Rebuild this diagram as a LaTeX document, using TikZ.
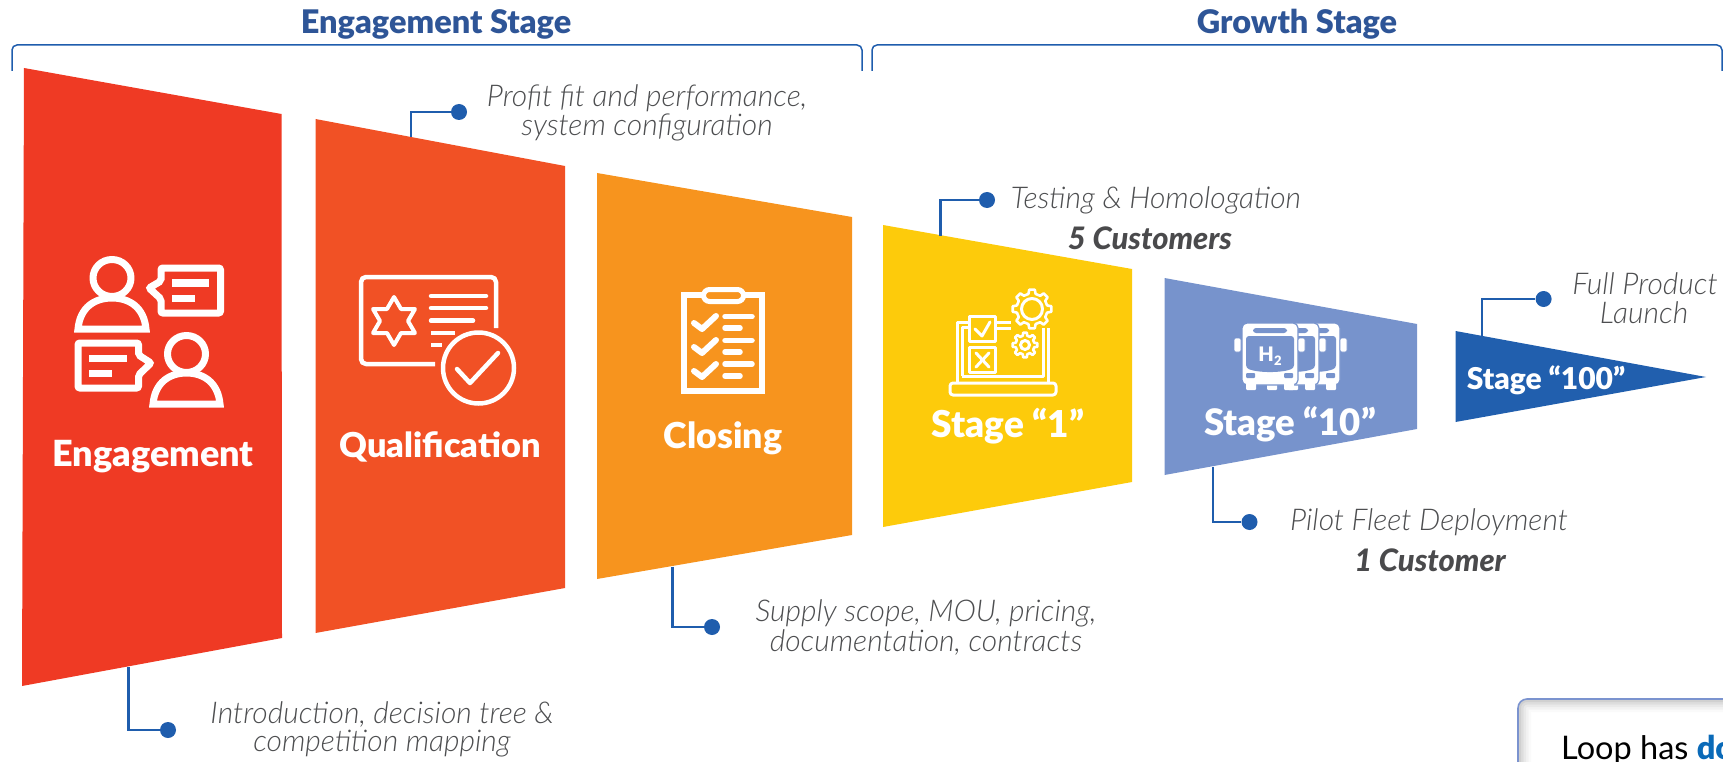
\documentclass[tikz,border=0pt]{standalone}
\usepackage{fontspec}
\setmainfont{Lato}[ItalicFont={Lato Light Italic},BoldFont={Lato Black},BoldItalicFont={Lato Black Italic}]
\usetikzlibrary{calc}
\definecolor{cEng}{HTML}{EF3A24}
\definecolor{cQual}{HTML}{F15125}
\definecolor{cClose}{HTML}{F7941E}
\definecolor{cOne}{HTML}{FDCB0B}
\definecolor{cTen}{HTML}{7793CC}
\definecolor{cHun}{HTML}{215FAE}
\definecolor{cLine}{HTML}{1F5DAD}
\definecolor{cTitle}{HTML}{2E5597}
\definecolor{cGrey}{HTML}{4D4E50}
\definecolor{cBold}{HTML}{4A4A4C}
\definecolor{cFrame}{HTML}{7B93CF}
\definecolor{cDo}{HTML}{0A6AB8}
\tikzset{
  stagelabel/.style={text=white,font=\bfseries\fontsize{#1}{#1}\selectfont,inner sep=0pt,anchor=center},
  note/.style={text=cGrey,font=\itshape\fontsize{30}{30}\selectfont,inner sep=0pt,anchor=center},
  notebold/.style={text=cBold,font=\bfseries\itshape\fontsize{31}{31}\selectfont,inner sep=0pt,anchor=center},
  titletext/.style={text=cTitle,font=\bfseries\fontsize{32.5}{32.5}\selectfont,inner sep=0pt,anchor=center},
  dot/.style={circle,fill=cLine,draw=none,minimum size=16pt,inner sep=0pt},
  conn/.style={draw=cLine,line width=2.4pt},
  bracketline/.style={draw=cLine,line width=1.5pt,rounded corners=5pt},
  ic/.style={draw=white,line width=#1,line join=round,line cap=round},
  bar/.style={fill=white,draw=none},
  busicon/.pic={
    \fill[white,draw=cTen,line width=1.2pt,rounded corners=5pt] (1242,323) rectangle (1298,385);
    \fill[white,rounded corners=1pt] (1246,383) rectangle (1256,390);
    \fill[white,rounded corners=1pt] (1284,383) rectangle (1294,390);
    \fill[cTen,rounded corners=3pt] (1253,328) rectangle (1287,333);
    \fill[cTen,rounded corners=3pt] (1246,336) -- (1294,336) -- (1294,368) .. controls (1282,373) and (1258,373) .. (1246,368) -- cycle;
    \fill[cTen,rounded corners=1pt] (1246,373) rectangle (1255,378);
    \fill[cTen,rounded corners=1pt] (1284,373) rectangle (1293,378);
    \fill[white,draw=cTen,line width=.6pt,rounded corners=2pt] (1234,338) rectangle (1241,352);
    \fill[white,draw=cTen,line width=.6pt,rounded corners=2pt] (1298,338) rectangle (1305,352);
  }
}
\newcommand{\gearshape}[5]{% x y outer root teeth
  \pgfmathsetmacro{\gearstep}{360/#5}
  \foreach \gearidx in {1,...,#5}{
    \pgfmathsetmacro{\ga}{\gearidx*\gearstep}
    \pgfmathsetmacro{\gn}{\ga+\gearstep}
    \draw[ic=2.6pt] ($(#1,#2)+(\ga-0.3*\gearstep:#4)$) -- ($(#1,#2)+(\ga-0.18*\gearstep:#3)$) -- ($(#1,#2)+(\ga+0.18*\gearstep:#3)$) -- ($(#1,#2)+(\ga+0.3*\gearstep:#4)$) -- ($(#1,#2)+(\gn-0.3*\gearstep:#4)$);
  }
}
\begin{document}
\begin{tikzpicture}[x=1pt,y=-1pt]
\useasboundingbox (0,0) rectangle (1723,762);
\clip (0,0) rectangle (1723,762);
% brackets
\coordinate (b1a) at (12,71); \coordinate (b1b) at (12,45); \coordinate (b1c) at (862,45); \coordinate (b1d) at (862,71);
\draw[bracketline] (b1a) -- (b1b) -- (b1c) -- (b1d);
\coordinate (b2a) at (872,71); \coordinate (b2b) at (872,45); \coordinate (b2c) at (1722,45); \coordinate (b2d) at (1722,71);
\draw[bracketline] (b2a) -- (b2b) -- (b2c) -- (b2d);
\node[titletext] (tEng) at (436,24) {Engagement Stage};
\node[titletext] (tGro) at (1297,24) {Growth Stage};
% funnel
\fill[cEng] (24,68) -- (281.5,114) -- (282,638) -- (22,686) -- cycle;
\fill[cQual] (315.5,119) -- (565,166) -- (565,588) -- (315.5,633) -- cycle;
\fill[cClose] (597,173) -- (852,217) -- (852,535) -- (597,579) -- cycle;
\fill[cOne] (883,225) -- (1132,269) -- (1132,482) -- (883,527) -- cycle;
\fill[cTen] (1164.5,278) -- (1417,324) -- (1417,429) -- (1164.5,475) -- cycle;
\fill[cHun] (1455.5,331) -- (1706,377) -- (1455.5,422) -- cycle;
% connector anchors
\coordinate (aEng) at (128.6,667);
\coordinate (aQual) at (411,137);
\coordinate (aClose) at (672.5,566.5);
\coordinate (aOne) at (940.6,235.5);
\coordinate (aTen) at (1213,466.5);
\coordinate (aHun) at (1482,336);
\node[dot] (dEng) at (168,730) {};
\node[dot] (dQual) at (459,112) {};
\node[dot] (dClose) at (712,627) {};
\node[dot] (dOne) at (987,200) {};
\node[dot] (dTen) at (1249.5,522) {};
\node[dot] (dHun) at (1543.6,299) {};
\draw[conn] (aEng) |- (dEng);
\draw[conn] (aQual) |- (dQual);
\draw[conn] (aClose) |- (dClose);
\draw[conn] (aOne) |- (dOne);
\draw[conn] (aTen) |- (dTen);
\draw[conn] (aHun) |- (dHun);
% notes
\node[note] (n1) at (647,98) {Profit fit and performance,};
\node[note] (n2) at (647,127) {system configuration};
\node[note] (n3) at (1156,200) {Testing \& Homologation};
\node[notebold] (n4) at (1150,238) {5 Customers};
\node[note] (n5) at (1645,284) {Full Product};
\node[note] (n6) at (1644,313) {Launch};
\node[note] (n7) at (1429,522) {Pilot Fleet Deployment};
\node[notebold] (n8) at (1430,560) {1 Customer};
\node[note] (n9) at (926,613) {Supply scope, MOU, pricing,};
\node[note] (n10) at (926,642) {documentation, contracts};
\node[note] (n11) at (382,714) {Introduction, decision tree \&};
\node[note] (n12) at (382,744) {competition mapping};
% stage labels
\node[stagelabel=36] (lEng) at (153,457) {Engagement};
\node[stagelabel=34.3] (lQual) at (440,447) {Qualification};
\node[stagelabel=35.7] (lClose) at (723,438) {Closing};
\node[stagelabel=37] (lOne) at (1008,426) {Stage “1”};
\node[stagelabel=36.5] (lTen) at (1290,424) {Stage “10”};
\node[stagelabel=30] (lHun) at (1546,380) {Stage “100”};
% engagement icon
\draw[ic=7pt] (112,278) ellipse (19 and 18.5);
\draw[ic=7pt,line cap=butt,line join=miter] (78,329) .. controls (80,307) and (95,298) .. (112,298) .. controls (129,298) and (144,307) .. (146,329) -- cycle;
\draw[ic=7pt,rounded corners=2pt,line join=miter] (161,268) -- (220.5,268) -- (220.5,313) -- (161,313) -- (161,299) -- (149,288) -- (161,281) -- cycle;
\fill[bar] (172,279) rectangle (209,287);
\fill[bar] (172,295) rectangle (195,302);
\draw[ic=7pt] (186.5,354) ellipse (19 and 18.5);
\draw[ic=7pt,line cap=butt,line join=miter] (153,404) .. controls (155,382) and (170,373) .. (186.5,373) .. controls (203,373) and (218,382) .. (220,404) -- cycle;
\draw[ic=7pt,rounded corners=2pt,line join=miter] (78,343) -- (138.5,343) -- (138.5,355) -- (151,363) -- (138.5,375) -- (138.5,388) -- (78,388) -- cycle;
\fill[bar] (89,355) rectangle (127,362);
\fill[bar] (89,370) rectangle (112,377);
% qualification icon
\draw[ic=4.5pt,rounded corners=5pt,line cap=butt] (435,364) -- (361,364) -- (361,277) -- (496,277) -- (496,328);
\draw[ic=4pt] (394,297) -- (401,309) -- (415,309) -- (408,321) -- (415,333) -- (401,333) -- (394,345) -- (387,333) -- (373,333) -- (380,321) -- (373,309) -- (387,309) -- cycle;
\draw[ic=4.5pt] (431,296) -- (486,296);
\draw[ic=4.5pt] (431,308) -- (486,308);
\draw[ic=4.5pt] (431,320.7) -- (473,320.7);
\draw[ic=4.5pt,line cap=butt] (431,333) -- (455,333);
\draw[ic=4.5pt,line cap=butt] (431,345) -- (442,345);
\draw[ic=4.5pt] (478.5,368) circle (35.5);
\draw[ic=4.5pt] (457,369) -- (470,383) -- (498,353);
% closing icon
\draw[ic=5.5pt,line join=miter] (684,295) rectangle (762,391);
\draw[draw=white,line width=5pt,fill=cClose,rounded corners=6pt] (703.5,289.5) rectangle (743.5,301.5);
\foreach \dy in {0,24,48}{
  \draw[ic=6pt] (694,323+\dy) -- (702,329+\dy) -- (716,316+\dy);
}
\foreach \ly/\lx in {316.7/752,328/740,340.5/752,352/740,364/752,376/740}{
  \draw[ic=5.5pt] (725,\ly) -- (\lx,\ly);
}
% stage 1 icon
\draw[ic=3pt,rounded corners=3pt] (950,383) rectangle (1056,395);
\draw[ic=3pt,line cap=butt] (957,383) -- (957,322) -- (968,322);
\draw[ic=3pt,line cap=butt] (962,376) -- (962,327) -- (968,327);
\draw[ic=3pt,line cap=butt] (962,376) -- (1043,376) -- (1043,328);
\draw[ic=3pt,line cap=butt] (1048,383) -- (1048,328);
\draw[ic=3pt,line cap=butt] (997,322) -- (1010.7,322);
\draw[ic=3pt,line cap=butt] (997,328) -- (1010.7,328);
\draw[ic=3pt,fill=cOne] (969,316) rectangle (995,341);
\draw[ic=3pt,fill=cOne] (969,347) rectangle (995,372);
\draw[ic=3pt] (975,329) -- (982,336) -- (990,322);
\draw[ic=3pt] (976,353) -- (989,367);
\draw[ic=3pt] (989,353) -- (976,367);
\gearshape{1032}{309}{19.5}{15.5}{8}
\draw[ic=3pt] (1032,309) circle (10.5);
\gearshape{1025}{345}{12.5}{9.5}{8}
\draw[ic=3pt] (1025,345) circle (4.5);
% bus icon
\pic at (42,0) {busicon};
\pic at (21,0) {busicon};
\pic at (0,0) {busicon};
\node[text=white,font=\bfseries\fontsize{20}{20}\selectfont,inner sep=0pt] (h2) at (1270,356) {H\raisebox{-0.35ex}{\fontsize{13}{13}\selectfont 2}};
% box bottom right
\begin{scope}
\clip[rounded corners=9pt] (1518,699) rectangle (1760,800);
\foreach \w/\o in {26/.02,21/.03,16/.04,11/.05,6/.06}{
  \draw[black,opacity=\o,line width=\w pt,rounded corners=9pt] (1518,699) rectangle (1760,800);
}
\end{scope}
\draw[cFrame,line width=1.6pt,rounded corners=9pt] (1518,699) rectangle (1760,800);
\node[anchor=base west,inner sep=0pt,font=\fontsize{32.5}{32.5}\selectfont] (box) at (1561,759.5) {Loop has \textcolor{cDo}{\bfseries do}};
\end{tikzpicture}
\end{document}
